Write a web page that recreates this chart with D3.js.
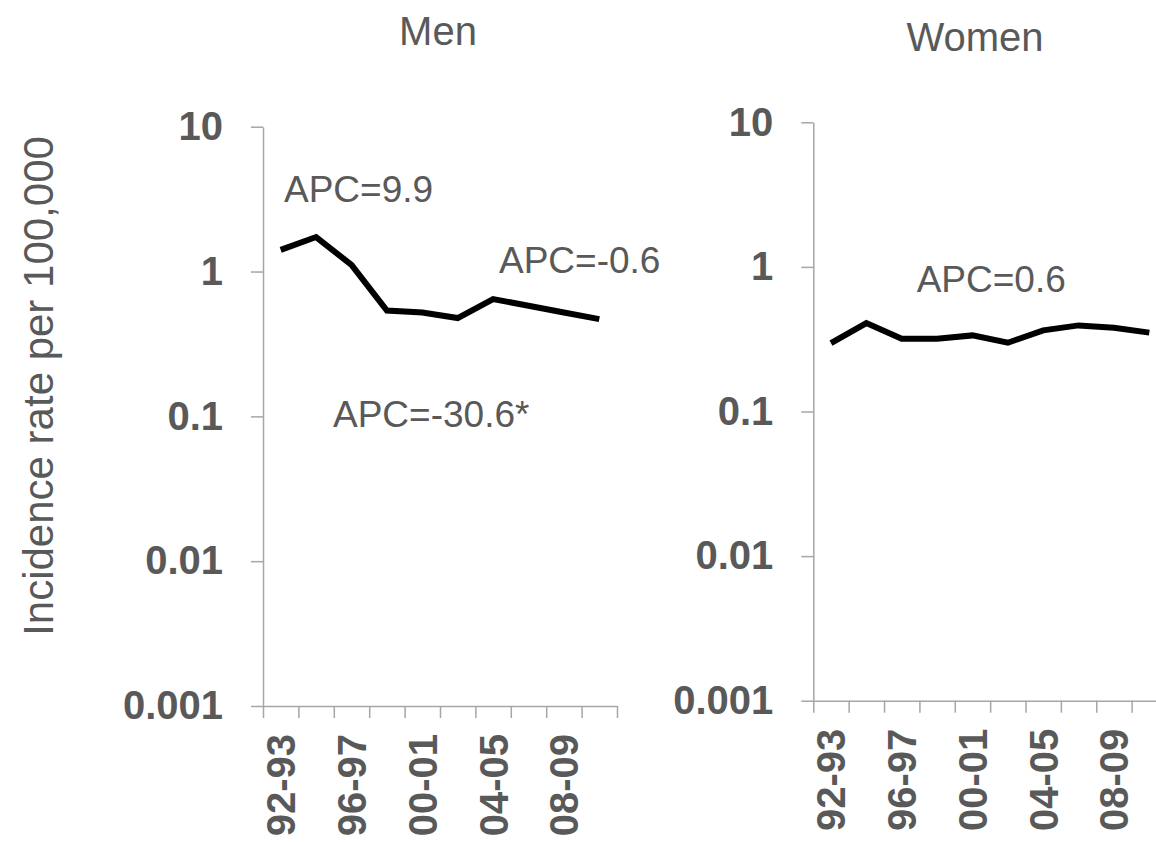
<!DOCTYPE html>
<html>
<head>
<meta charset="utf-8">
<script src="https://cdn.jsdelivr.net/npm/d3@7"></script>
<style>
  body { margin: 0; background: #fff; }
  text { font-family: "Liberation Sans", Arial, sans-serif; }
</style>
</head>
<body>
<div id="chart-area"></div>
<script>
// data
const categories = ["92-93", "94-95", "96-97", "98-99", "00-01", "02-03", "04-05", "06-07", "08-09", "10-11"];
const xTickLabels = ["92-93", "96-97", "00-01", "04-05", "08-09"];
const menRates = [1.41, 1.73, 1.11, 0.538, 0.521, 0.477, 0.645, 0.58, 0.521, 0.469];
const womenRates = [0.297, 0.409, 0.319, 0.319, 0.336, 0.299, 0.364, 0.394, 0.38, 0.351];
const yTicks = [10, 1, 0.1, 0.01, 0.001];
const yTickLabels = ["10", "1", "0.1", "0.01", "0.001"];

const textColor = "#595959";
const axisColor = "#a6a6a6";

const svg = d3.select("#chart-area")
    .append("svg")
    .attr("width", 1156)
    .attr("height", 842);

// Y Label
svg.append("text")
    .attr("transform", "translate(53,386) rotate(-90)")
    .attr("text-anchor", "middle")
    .attr("font-size", "42px")
    .attr("fill", textColor)
    .text("Incidence rate per 100,000");

function drawPanel(p) {
    const y = d3.scaleLog()
        .domain([0.001, 10])
        .range([p.bottom, p.top]);

    const xIdx = d3.scaleLinear()
        .domain([0, categories.length])
        .range([p.left, p.right]);

    const x = d3.scaleBand()
        .domain(categories)
        .range([p.left, p.right]);

    // title
    svg.append("text")
        .attr("x", p.titleX)
        .attr("y", p.titleY)
        .attr("text-anchor", "middle")
        .attr("font-size", "40px")
        .attr("fill", textColor)
        .text(p.title);

    // X Axis ticks (between categories)
    const xTicks = svg.append("g")
        .attr("transform", "translate(0," + p.bottom + ")")
        .call(d3.axisBottom(xIdx)
            .tickValues(d3.range(categories.length + 1))
            .tickFormat("")
            .tickSizeInner(12)
            .tickSizeOuter(0));

    // X labels
    const xLabels = svg.append("g")
        .attr("transform", "translate(0," + (p.bottom + 28) + ")")
        .call(d3.axisBottom(x)
            .tickSize(0)
            .tickFormat(function(d) {
                return xTickLabels.includes(d) ? d : "";
            }));
    xLabels.select(".domain").remove();
    xLabels.selectAll("text")
        .attr("font-family", "Liberation Sans, Arial, sans-serif")
        .attr("font-size", "40px")
        .attr("font-weight", "bold")
        .attr("fill", textColor)
        .attr("text-anchor", "end")
        .attr("transform", "rotate(-90)")
        .attr("x", 0)
        .attr("y", 0)
        .attr("dy", "0.36em");

    // Y Axis
    const yAxis = svg.append("g")
        .attr("transform", "translate(" + p.left + ",0)")
        .call(d3.axisLeft(y)
            .tickValues(yTicks)
            .tickFormat(function(d, i) { return yTickLabels[i]; })
            .tickSizeInner(12)
            .tickSizeOuter(0)
            .tickPadding(28));
    yAxis.selectAll("text")
        .attr("font-family", "Liberation Sans, Arial, sans-serif")
        .attr("font-size", "40px")
        .attr("font-weight", "bold")
        .attr("fill", textColor);

    [xTicks, yAxis].forEach(function(a) {
        a.selectAll("line, path")
            .attr("stroke", axisColor)
            .attr("stroke-width", 1.5);
    });

    // line
    const line = d3.line()
        .x(function(d, i) { return x(categories[i]) + x.bandwidth() / 2; })
        .y(function(d) { return y(d); });

    svg.append("path")
        .datum(p.data)
        .attr("fill", "none")
        .attr("stroke", "#000")
        .attr("stroke-width", 6)
        .attr("stroke-linejoin", "miter")
        .attr("d", line);

    // APC notes
    p.notes.forEach(function(n) {
        svg.append("text")
            .attr("x", n.x)
            .attr("y", n.y)
            .attr("font-size", "37px")
            .attr("fill", textColor)
            .text(n.text);
    });
}

drawPanel({
    title: "Men", titleX: 438, titleY: 45,
    left: 263, right: 617, top: 126.7, bottom: 706,
    data: menRates,
    notes: [
        { text: "APC=9.9", x: 284, y: 201.7 },
        { text: "APC=-0.6", x: 499, y: 272.7 },
        { text: "APC=-30.6*", x: 333, y: 426.7 }
    ]
});

drawPanel({
    title: "Women", titleX: 975, titleY: 51,
    left: 813.3, right: 1167, top: 122.3, bottom: 700.7,
    data: womenRates,
    notes: [
        { text: "APC=0.6", x: 916.7, y: 291.7 }
    ]
});
</script>
</body>
</html>
